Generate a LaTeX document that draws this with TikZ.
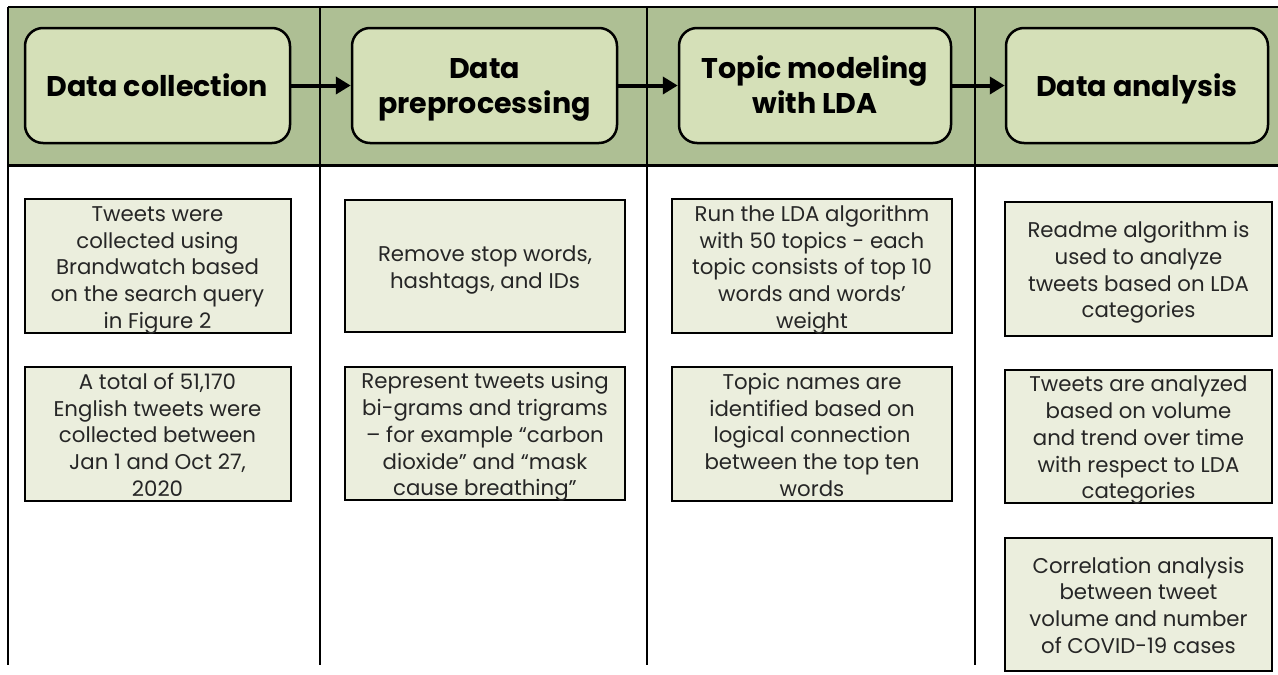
\documentclass[tikz,border=0pt]{standalone}
\usepackage{fontspec}
\setmainfont{Poppins}
\usetikzlibrary{arrows.meta}
\definecolor{bandgreen}{HTML}{AEBF94}
\definecolor{headfill}{HTML}{D5E0B8}
\definecolor{bodyfill}{HTML}{EBEEDD}
\definecolor{bodytext}{HTML}{262626}
\newcommand\stacklines[1]{\raisebox{-3.5pt}[\height][\depth]{\begin{tabular}{@{}c@{}}#1\end{tabular}}}
\tikzset{
  headbox/.style={draw=black, line width=2.5pt, rounded corners=18pt, fill=headfill,
    minimum height=115pt, align=center, inner sep=0pt,
    font=\fontsize{28.5}{35}\selectfont\bfseries},
  bodybox/.style={draw=black, line width=2pt, fill=bodyfill, align=center, inner sep=0pt,
    text=bodytext, font=\fontsize{21.3}{26.7}\selectfont},
  flowarrow/.style={line width=4pt, -{Triangle[length=15pt,width=17pt]}},
  gridline/.style={line width=2pt, black}
}
\begin{document}
\begin{tikzpicture}[x=1pt,y=-1pt]
\useasboundingbox (0,0) rectangle (1278,675);
\fill[white] (0,0) rectangle (1278,675);
% header band
\fill[bandgreen] (8,7) rectangle (1278,165);
\draw[gridline] (8,7) -- (1278,7);
\draw[line width=3pt] (8,165) -- (1278,165);
\foreach \x in {8,320,647,975} {\draw[gridline] (\x,7) -- (\x,665);}
% header boxes
\node[headbox, minimum width=265pt] (h1) at (157.5,85.5) {\stacklines{Data collection}};
\node[headbox, minimum width=265pt] (h2) at (484.5,85.5) {\stacklines{Data\\preprocessing}};
\node[headbox, minimum width=272pt] (h3) at (815,85.5) {\stacklines{Topic modeling\\with LDA}};
\node[headbox, minimum width=262pt] (h4) at (1137,85.5) {\stacklines{Data analysis}};
\draw[flowarrow] (h1.east) -- (h2.west);
\draw[flowarrow] (h2.east) -- (h3.west);
\draw[flowarrow] (h3.east) -- (h4.west);
% column 1
\node[bodybox, minimum width=266pt, minimum height=132pt] (c1a) at (157.5,266)
  {\stacklines{Tweets were\\collected using\\Brandwatch based\\on the search query\\in Figure 2}};
\node[bodybox, minimum width=266pt, minimum height=134pt] (c1b) at (157.5,434)
  {\stacklines{A total of 51,170\\English tweets were\\collected between\\Jan 1 and Oct 27,\\2020}};
% column 2
\node[bodybox, minimum width=280pt, minimum height=132pt] (c2a) at (485,266)
  {\stacklines{Remove stop words,\\hashtags, and IDs}};
\node[bodybox, minimum width=280pt, minimum height=133pt] (c2b) at (485,433.5)
  {\stacklines{Represent tweets using\\bi-grams and trigrams\\– for example “carbon\\dioxide” and “mask\\cause breathing”}};
% column 3
\node[bodybox, minimum width=280pt, minimum height=132pt] (c3a) at (812,266)
  {\stacklines{Run the LDA algorithm\\with 50 topics - each\\topic consists of top 10\\words and words’\\weight}};
\node[bodybox, minimum width=280pt, minimum height=132pt] (c3b) at (812,434)
  {\stacklines{Topic names are\\identified based on\\logical connection\\between the top ten\\words}};
% column 4
\node[bodybox, minimum width=267pt, minimum height=134pt] (c4a) at (1138.5,269)
  {\stacklines{Readme algorithm is\\used to analyze\\tweets based on LDA\\categories}};
\node[bodybox, minimum width=267pt, minimum height=133pt] (c4b) at (1138.5,436.5)
  {\stacklines{Tweets are analyzed\\based on volume\\and trend over time\\with respect to LDA\\categories}};
\node[bodybox, minimum width=267pt, minimum height=133pt] (c4c) at (1138.5,604.5)
  {\stacklines{Correlation analysis\\between tweet\\volume and number\\of COVID-19 cases}};
\end{tikzpicture}
\end{document}
